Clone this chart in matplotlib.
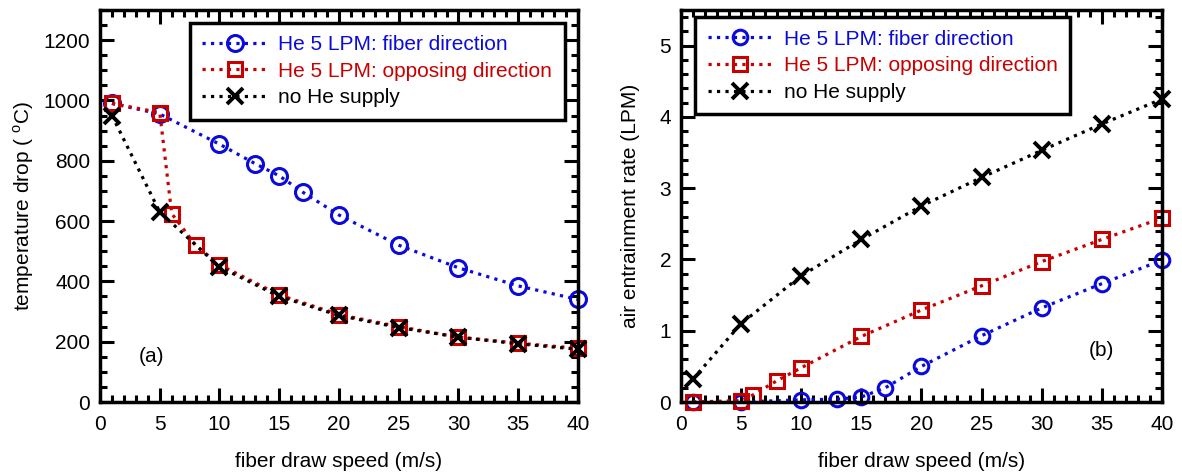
import matplotlib
matplotlib.use('Agg')
import matplotlib.pyplot as plt
from matplotlib.ticker import MultipleLocator

plt.rcParams['font.family'] = ['Liberation Sans', 'DejaVu Sans']
plt.rcParams['mathtext.fontset'] = 'custom'
plt.rcParams['mathtext.rm'] = 'Liberation Sans'

BLUE = '#0a0adc'
RED = '#c80000'
BLACK = '#000000'

labels = ['He 5 LPM: fiber direction', 'He 5 LPM: opposing direction', 'no He supply']

# (a) temperature drop
speed_fiber = [1, 5, 10, 13, 15, 17, 20, 25, 30, 35, 40]
temp_fiber = [990, 955, 855, 790, 750, 695, 620, 520, 445, 385, 340]
speed_opp = [1, 5, 6, 8, 10, 15, 20, 25, 30, 35, 40]
temp_opp = [990, 960, 625, 520, 455, 355, 290, 250, 215, 195, 178]
speed_none = [1, 5, 10, 15, 20, 25, 30, 35, 40]
temp_none = [950, 630, 448, 350, 287, 247, 215, 193, 175]

# (b) air entrainment rate
air_fiber = [0.0, 0.0, 0.03, 0.04, 0.07, 0.2, 0.5, 0.93, 1.32, 1.66, 1.99]
air_opp = [0.0, 0.02, 0.1, 0.3, 0.48, 0.92, 1.29, 1.63, 1.97, 2.28, 2.58]
air_none = [0.32, 1.1, 1.77, 2.28, 2.75, 3.15, 3.53, 3.9, 4.25]


def style_axes(ax, ymajor, yminor):
    ax.xaxis.set_major_locator(MultipleLocator(5))
    ax.xaxis.set_minor_locator(MultipleLocator(1))
    ax.yaxis.set_major_locator(MultipleLocator(ymajor))
    ax.yaxis.set_minor_locator(MultipleLocator(yminor))
    ax.tick_params(which='both', direction='in', top=True, right=True,
                   width=2.2, labelsize=15)
    ax.tick_params(axis='x', pad=9)
    ax.tick_params(axis='y', pad=7)
    ax.tick_params(which='major', length=10)
    ax.tick_params(which='minor', length=5)
    for s in ax.spines.values():
        s.set_linewidth(2.5)
    ax.set_xlabel('fiber draw speed (m/s)', fontsize=15, labelpad=13)


def add_legend(ax, x, y):
    leg = ax.legend(loc='upper left', bbox_to_anchor=(x, y), borderaxespad=0,
                    fontsize=15, frameon=True, fancybox=False, framealpha=1,
                    edgecolor='black', handlelength=3.1, handletextpad=0.55,
                    borderpad=0.6, labelspacing=0.37)
    leg.get_frame().set_linewidth(2.5)
    for text, c in zip(leg.get_texts(), [BLUE, RED, BLACK]):
        text.set_color(c)
    return leg


fig = plt.figure(figsize=(11.82, 4.73), dpi=100)
ax1 = fig.add_axes([0.0846, 0.1501, 0.4044, 0.8288])
ax2 = fig.add_axes([0.5761, 0.1501, 0.4069, 0.8288])

kw = dict(linestyle=':', linewidth=2.3, markerfacecolor='none',
          markeredgewidth=2.2, clip_on=False)

ax1.plot(speed_fiber, temp_fiber, color=BLUE, marker='o', markersize=11.5, label=labels[0], **kw)
ax1.plot(speed_opp, temp_opp, color=RED, marker='s', markersize=10.5, label=labels[1], **kw)
ax1.plot(speed_none, temp_none, color=BLACK, marker='x', markersize=11, markeredgewidth=2.8,
         label=labels[2], linestyle=':', linewidth=2.3, clip_on=False)
ax1.set_xlim(0, 40)
ax1.set_ylim(0, 1300)
style_axes(ax1, 200, 50)
ax1.set_ylabel('temperature drop ( $^\\mathrm{o}$C)', fontsize=15, labelpad=5)
ax1.text(4.3, 152, '(a)', fontsize=15, ha='center', va='center')
add_legend(ax1, 0.188, 0.968)

ax2.plot(speed_fiber, air_fiber, color=BLUE, marker='o', markersize=10.5, label=labels[0], **kw)
ax2.plot(speed_opp, air_opp, color=RED, marker='s', markersize=10.5, label=labels[1], **kw)
ax2.plot(speed_none, air_none, color=BLACK, marker='x', markersize=11, markeredgewidth=2.8,
         label=labels[2], linestyle=':', linewidth=2.3, clip_on=False)
ax2.set_xlim(0, 40)
ax2.set_ylim(0, 5.5)
style_axes(ax2, 1, 0.2)
ax2.set_ylabel('air entrainment rate (LPM)', fontsize=15, labelpad=14)
ax2.text(35, 0.72, '(b)', fontsize=15, ha='center', va='center')
add_legend(ax2, 0.03, 0.982)

fig.savefig('out.png', dpi=100)
